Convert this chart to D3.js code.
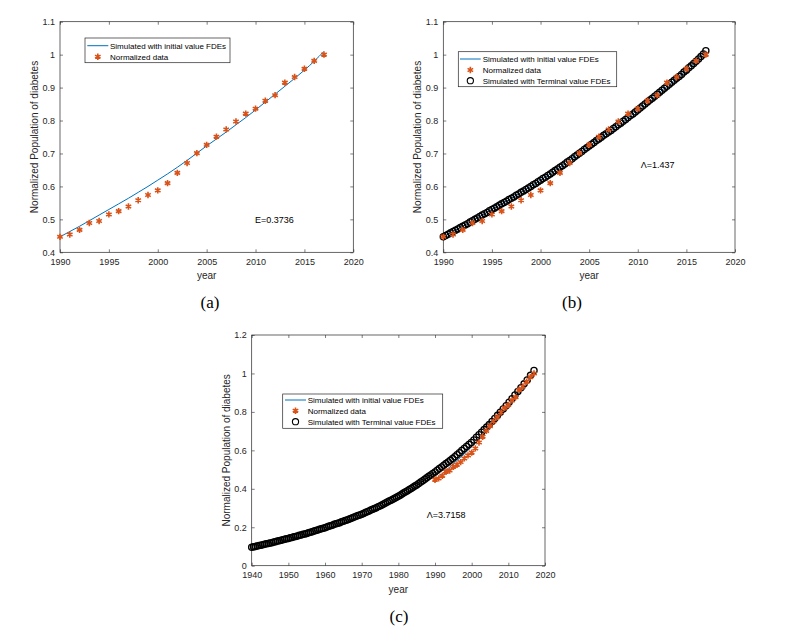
<!DOCTYPE html>
<html>
<head>
<meta charset="utf-8">
<script src="https://cdn.jsdelivr.net/npm/d3@7"></script>
<style>
body { margin: 0; background: #fff; }
text { fill: #262626; }
</style>
</head>
<body>
<svg id="fig" width="788" height="627"></svg>
<script>
// yearly data, 1990..2017
const years = [1990,1991,1992,1993,1994,1995,1996,1997,1998,1999,2000,2001,2002,2003,
               2004,2005,2006,2007,2008,2009,2010,2011,2012,2013,2014,2015,2016,2017];
const normalizedData = [0.447,0.454,0.468,0.489,0.495,0.515,0.525,0.539,0.558,0.574,0.588,0.610,0.641,0.671,
                        0.701,0.726,0.751,0.773,0.797,0.821,0.836,0.860,0.877,0.915,0.932,0.957,0.981,1.000];
const initialSim = [0.447,0.463,0.479,0.496,0.513,0.530,0.547,0.564,0.582,0.600,0.619,0.638,0.658,0.679,
                    0.701,0.723,0.744,0.765,0.787,0.809,0.832,0.856,0.880,0.904,0.928,0.953,0.980,1.010];

// terminal value FDE markers, panel (b)
const bTermYears = [
  1990,1990.25,1990.5,1990.75, 1991,1991.25,1991.5,1991.75, 1992,1992.25,1992.5,1992.75,
  1993,1993.25,1993.5,1993.75, 1994,1994.25,1994.5,1994.75, 1995,1995.25,1995.5,1995.75,
  1996,1996.25,1996.5,1996.75, 1997,1997.25,1997.5,1997.75, 1998,1998.25,1998.5,1998.75,
  1999,1999.25,1999.5,1999.75, 2000,2000.25,2000.5,2000.75, 2001,2001.25,2001.5,2001.75,
  2002,2002.25,2002.5,2002.75, 2003,2003.25,2003.5,2003.75, 2004,2004.25,2004.5,2004.75,
  2005,2005.25,2005.5,2005.75, 2006,2006.25,2006.5,2006.75, 2007,2007.25,2007.5,2007.75,
  2008,2008.25,2008.5,2008.75, 2009,2009.25,2009.5,2009.75, 2010,2010.25,2010.5,2010.75,
  2011,2011.25,2011.5,2011.75, 2012,2012.25,2012.5,2012.75, 2013,2013.25,2013.5,2013.75,
  2014,2014.25,2014.5,2014.75, 2015,2015.25,2015.5,2015.75, 2016,2016.25,2016.5,2016.75,
  2017];
const bTermValues = [
  0.447,0.451,0.455,0.459, 0.463,0.467,0.471,0.475, 0.479,0.483,0.487,0.492,
  0.496,0.500,0.504,0.509, 0.513,0.517,0.521,0.526, 0.530,0.534,0.538,0.543,
  0.547,0.551,0.555,0.560, 0.564,0.568,0.573,0.577, 0.582,0.586,0.591,0.595,
  0.600,0.605,0.609,0.614, 0.619,0.624,0.628,0.633, 0.638,0.643,0.648,0.653,
  0.658,0.663,0.668,0.674, 0.679,0.684,0.690,0.695, 0.701,0.706,0.712,0.717,
  0.723,0.728,0.733,0.739, 0.744,0.749,0.755,0.760, 0.765,0.770,0.776,0.781,
  0.787,0.792,0.798,0.803, 0.809,0.815,0.820,0.826, 0.832,0.838,0.844,0.850,
  0.856,0.862,0.868,0.874, 0.880,0.886,0.892,0.898, 0.904,0.910,0.916,0.922,
  0.928,0.934,0.940,0.947, 0.953,0.960,0.966,0.973, 0.980,0.987,0.994,1.002,
  1.012];

// terminal value FDE markers, panel (c)
const cTermYears = [
  1940,1940.5,1941,1941.5,1942,1942.5,1943,1943.5,1944,1944.5,
  1945,1945.5,1946,1946.5,1947,1947.5,1948,1948.5,1949,1949.5,
  1950,1950.5,1951,1951.5,1952,1952.5,1953,1953.5,1954,1954.5,
  1955,1955.5,1956,1956.5,1957,1957.5,1958,1958.5,1959,1959.5,
  1960,1960.5,1961,1961.5,1962,1962.5,1963,1963.5,1964,1964.5,
  1965,1965.5,1966,1966.5,1967,1967.5,1968,1968.5,1969,1969.5,
  1970,1970.5,1971,1971.5,1972,1972.5,1973,1973.5,1974,1974.5,
  1975,1975.5,1976,1976.5,1977,1977.5,1978,1978.5,1979,1979.5,
  1980,1980.5,1981,1981.5,1982,1982.5,1983,1983.5,1984,1984.5,
  1985,1985.55,1986.1,1986.65,1987.2,1987.75,1988.3,1988.85,1989.4,
  1990,1990.6,1991.2,1991.8,1992.4,1993,1993.6,1994.2,1994.8,1995.4,
  1996,1996.65,1997.3,1997.95,1998.6,1999.25,1999.9,2000.6,2001.3,
  2002,2002.7,2003.4,2004.1,2004.8,2005.55,2006.3,2007.05,2007.8,
  2008.6,2009.4,2010.2,2011,2011.8,2012.6,2013.45,2014.3,2015.15,2016.05,2017];
const cTermValues = [
  0.096,0.098,0.100,0.103,0.105,0.107,0.109,0.111,0.114,0.116,
  0.118,0.120,0.123,0.125,0.128,0.130,0.132,0.135,0.137,0.140,
  0.142,0.145,0.147,0.150,0.152,0.155,0.158,0.160,0.163,0.165,
  0.168,0.171,0.174,0.177,0.180,0.183,0.186,0.189,0.192,0.195,
  0.198,0.201,0.205,0.208,0.211,0.215,0.218,0.221,0.224,0.228,
  0.231,0.235,0.238,0.242,0.246,0.250,0.253,0.257,0.261,0.264,
  0.268,0.272,0.277,0.281,0.285,0.290,0.294,0.298,0.302,0.307,
  0.311,0.316,0.321,0.326,0.331,0.336,0.341,0.346,0.351,0.356,
  0.361,0.367,0.373,0.379,0.385,0.390,0.396,0.402,0.408,0.414,
  0.420,0.427,0.435,0.442,0.450,0.457,0.465,0.472,0.480,
  0.488,0.497,0.505,0.514,0.523,0.531,0.540,0.548,0.557,0.567,
  0.577,0.588,0.599,0.610,0.620,0.631,0.641,0.654,0.668,
  0.681,0.694,0.708,0.721,0.734,0.750,0.766,0.782,0.798,
  0.815,0.832,0.850,0.869,0.888,0.906,0.926,0.946,0.966,0.990,1.015];

const shortXTicks = [1990,1995,2000,2005,2010,2015,2020];
const shortYTicks = [0.4,0.5,0.6,0.7,0.8,0.9,1,1.1];
const longXTicks = [1940,1950,1960,1970,1980,1990,2000,2010,2020];
const longYTicks = [0,0.2,0.4,0.6,0.8,1,1.2];

const legendLabels = ["Simulated with initial value FDEs", "Normalized data", "Simulated with Terminal value FDEs"];

const BLUE = "#0072BD", ORANGE = "#D95319", AXIS = "#262626";
const SANS = "'Liberation Sans', Arial, sans-serif";
const SERIF = "'Liberation Serif', 'Times New Roman', serif";
const svg = d3.select("#fig");
const asterisk = d3.symbol().type(d3.symbolAsterisk).size(28);

function drawPanel(p) {
    let x = d3.scaleLinear().domain(p.xDomain).range([p.left, p.right]);
    let y = d3.scaleLinear().domain(p.yDomain).range([p.bottom, p.top]);
    let g = svg.append("g").style("font-family", SANS);

    let styleAxis = function(sel) {
        sel.select(".domain").remove();
        sel.selectAll("line").attr("stroke", AXIS).attr("stroke-width", 0.6);
        sel.attr("font-family", null).attr("font-size", null);
        sel.selectAll("text").style("font-size", "9px").style("fill", AXIS);
    };
    g.append("g").attr("transform", "translate(0," + p.bottom + ")")
        .call(d3.axisBottom(x).tickValues(p.xTicks).tickFormat(d3.format("d")).tickSizeInner(-3).tickSizeOuter(0).tickPadding(6))
        .call(styleAxis);
    g.append("g").attr("transform", "translate(0," + p.top + ")")
        .call(d3.axisTop(x).tickValues(p.xTicks).tickFormat("").tickSizeInner(-3).tickSizeOuter(0))
        .call(styleAxis);
    g.append("g").attr("transform", "translate(" + p.left + ",0)")
        .call(d3.axisLeft(y).tickValues(p.yTicks).tickFormat(d3.format("~g")).tickSizeInner(-3).tickSizeOuter(0).tickPadding(5))
        .call(styleAxis);
    g.append("g").attr("transform", "translate(" + p.right + ",0)")
        .call(d3.axisRight(y).tickValues(p.yTicks).tickFormat("").tickSizeInner(-3).tickSizeOuter(0))
        .call(styleAxis);
    g.append("rect")
        .attr("x", p.left).attr("y", p.top)
        .attr("width", p.right - p.left).attr("height", p.bottom - p.top)
        .attr("fill", "none").attr("stroke", AXIS).attr("stroke-width", 0.7);

    // axis titles
    g.append("text")
        .attr("x", (p.left + p.right) / 2).attr("y", p.bottom + 27)
        .attr("text-anchor", "middle").style("font-size", "10px")
        .text("year");
    g.append("text")
        .attr("transform", "translate(" + (p.left - 22) + "," + ((p.top + p.bottom) / 2) + ") rotate(-90)")
        .attr("text-anchor", "middle").style("font-size", "10px")
        .text("Normalized Population of diabetes");

    // series
    let line = d3.line()
        .x(function(d, i) { return x(years[i]); })
        .y(function(d) { return y(d); })
        .curve(d3.curveMonotoneX);
    g.append("path").datum(initialSim)
        .attr("d", line)
        .attr("fill", "none").attr("stroke", BLUE).attr("stroke-width", 1);

    if (p.termYears) {
        g.append("g").selectAll("circle")
            .data(p.termValues)
            .enter()
            .append("circle")
            .attr("cx", function(d, i) { return x(p.termYears[i]); })
            .attr("cy", function(d) { return y(d); })
            .attr("r", 3.1)
            .attr("fill", "none").attr("stroke", "#000").attr("stroke-width", 1.3);
    }

    g.append("g").selectAll("path")
        .data(normalizedData)
        .enter()
        .append("path")
        .attr("d", asterisk)
        .attr("transform", function(d, i) { return "translate(" + x(years[i]) + "," + y(d) + ")"; })
        .attr("fill", "none").attr("stroke", ORANGE).attr("stroke-width", 1.6);

    // legend
    let L = p.legend;
    let lg = g.append("g");
    lg.append("rect")
        .attr("x", L.x).attr("y", L.y).attr("width", L.w).attr("height", L.h)
        .attr("fill", "#fff").attr("stroke", AXIS).attr("stroke-width", 0.7);
    let nRows = p.termYears ? 3 : 2;
    for (let k = 0; k < nRows; k++) {
        let ry = L.rows[k];
        let mx = (L.lx0 + L.lx1) / 2;
        if (k === 0) {
            lg.append("line").attr("x1", L.lx0).attr("x2", L.lx1).attr("y1", ry).attr("y2", ry)
                .attr("stroke", BLUE).attr("stroke-width", 1);
        } else if (k === 1) {
            lg.append("path").attr("d", asterisk).attr("transform", "translate(" + mx + "," + ry + ")")
                .attr("fill", "none").attr("stroke", ORANGE).attr("stroke-width", 1.6);
        } else {
            lg.append("circle").attr("cx", mx).attr("cy", ry).attr("r", 3.1)
                .attr("fill", "none").attr("stroke", "#000").attr("stroke-width", 1.1);
        }
        lg.append("text").attr("x", L.tx).attr("y", ry).attr("dy", "0.35em")
            .style("font-size", "8px").style("fill", "#000")
            .text(legendLabels[k]);
    }

    // annotation
    g.append("text").attr("x", p.note.x).attr("y", p.note.y)
        .style("font-size", "9px").style("fill", "#000")
        .text(p.note.text);

    // caption
    svg.append("text").attr("x", p.caption.x).attr("y", p.caption.y)
        .attr("text-anchor", "middle")
        .style("font-family", SERIF)
        .style("font-size", "17px").style("fill", "#000")
        .text(p.caption.text);
}

drawPanel({
    left: 60, right: 353.3, top: 21.7, bottom: 252.3,
    xDomain: [1990, 2020], yDomain: [0.4, 1.1],
    xTicks: shortXTicks, yTicks: shortYTicks,
    legend: { x: 85, y: 38, w: 145, h: 24.7, rows: [45.7, 56.7], lx0: 87.3, lx1: 108.3, tx: 110 },
    note: { x: 255, y: 223, text: "E=0.3736" },
    caption: { x: 210, y: 308, text: "(a)" }
});

drawPanel({
    left: 443.3, right: 735, top: 21.7, bottom: 252.3,
    xDomain: [1990, 2020], yDomain: [0.4, 1.1],
    xTicks: shortXTicks, yTicks: shortYTicks,
    termYears: bTermYears, termValues: bTermValues,
    legend: { x: 458.3, y: 51.7, w: 158.4, h: 35, rows: [59, 70, 80.7], lx0: 460, lx1: 480.7, tx: 482.7 },
    note: { x: 640.7, y: 168, text: "Λ=1.437" },
    caption: { x: 572, y: 308, text: "(b)" }
});

drawPanel({
    left: 251.7, right: 545, top: 335, bottom: 565.7,
    xDomain: [1940, 2020], yDomain: [0, 1.2],
    xTicks: longXTicks, yTicks: longYTicks,
    termYears: cTermYears, termValues: cTermValues,
    legend: { x: 282.7, y: 394, w: 160, h: 34.3, rows: [400, 410.7, 421.7], lx0: 285, lx1: 306, tx: 307.7 },
    note: { x: 426.7, y: 518, text: "Λ=3.7158" },
    caption: { x: 399, y: 622, text: "(c)" }
});
</script>
</body>
</html>
